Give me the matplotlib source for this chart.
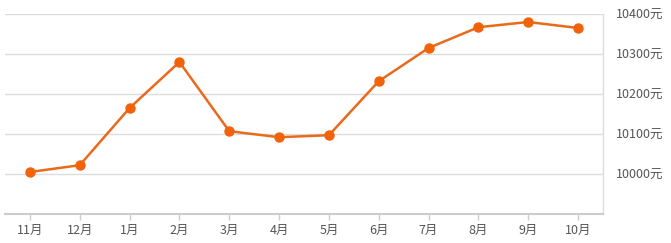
import matplotlib
matplotlib.use("Agg")
import matplotlib.pyplot as plt
from matplotlib.ticker import FixedLocator

plt.rcParams['font.family'] = ['Noto Sans CJK SC', 'DejaVu Sans']

months = ["11月", "12月", "1月", "2月", "3月", "4月", "5月", "6月", "7月", "8月", "9月", "10月"]
prices = [10005, 10022, 10165, 10280, 10107, 10092, 10097, 10232, 10315, 10367, 10380, 10365]
y_ticks = [10000, 10100, 10200, 10300, 10400]
y_labels = [f"{v}元" for v in y_ticks]

W, H = 671, 243
fig = plt.figure(figsize=(W / 100, H / 100), dpi=100)
left, right, top, bottom = 5, 603, 14, 214
ax = fig.add_axes([left / W, (H - bottom) / H, (right - left) / W, (bottom - top) / H])

x = list(range(len(months)))
ax.plot(x, prices, color="#EA6A1C", linewidth=1.8, marker="o", markersize=6.5,
        markerfacecolor="#F2620A", markeredgecolor="#F2620A", zorder=3, clip_on=False)

ax.set_xlim(-0.5, len(months) - 0.5)
ax.set_ylim(9900, 10400)
ax.set_xticks(x)
ax.set_xticklabels(months)
ax.yaxis.set_major_locator(FixedLocator(y_ticks))
ax.set_yticklabels(y_labels)
ax.yaxis.tick_right()

ax.grid(axis="y", color="#DCDCDC", linewidth=1)
ax.set_axisbelow(True)
for s in ["top", "left"]:
    ax.spines[s].set_visible(False)
ax.spines["bottom"].set_color("#CCCCCC")
ax.spines["bottom"].set_linewidth(1.5)
ax.spines["right"].set_color("#DDDDDD")
ax.spines["right"].set_linewidth(1)

ax.tick_params(axis="x", length=4, width=1, color="#CCCCCC", labelsize=9,
               labelcolor="#555555", pad=3)
ax.tick_params(axis="y", length=0, labelsize=9, labelcolor="#555555", pad=9)

fig.savefig("out.png", dpi=100)
